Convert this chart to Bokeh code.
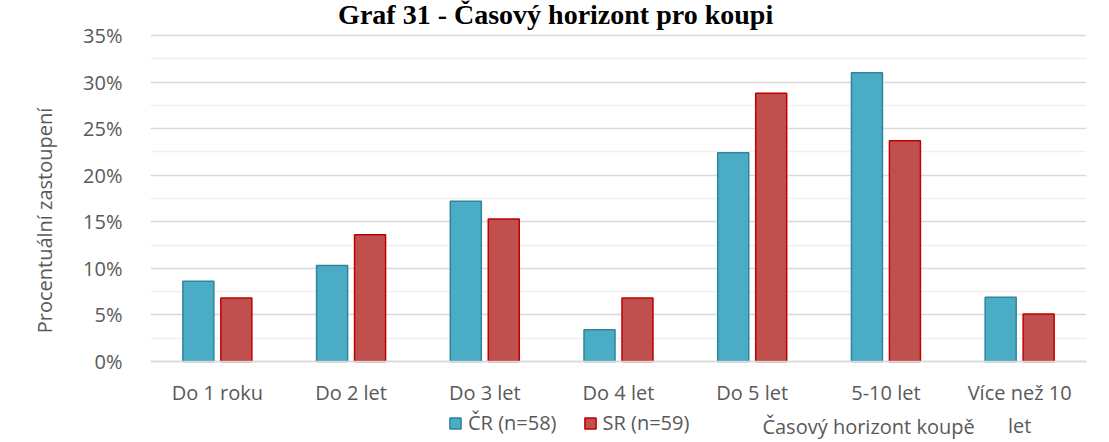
from bokeh.plotting import figure
from bokeh.models import (FixedTicker, PrintfTickFormatter, Legend, LegendItem,
                          Label, Range1d)
from bokeh.embed import file_html
from bokeh.resources import INLINE
import numpy as np

categories = ["Do 1 roku", "Do 2 let", "Do 3 let", "Do 4 let", "Do 5 let",
              "5-10 let", "Více než 10\nlet"]
cr_values = [8.6, 10.3, 17.2, 3.4, 22.4, 31.0, 6.9]
sr_values = [6.8, 13.6, 15.3, 6.8, 28.8, 23.7, 5.1]
series_names = ["ČR (n=58)", "SR (n=59)"]
y_ticks = [0, 5, 10, 15, 20, 25, 30, 35]
y_minor = [2.5, 7.5, 12.5, 17.5, 22.5, 27.5, 32.5]
title_text = "Graf 31 - Časový horizont pro koupi"
x_title = "Časový horizont koupě"
y_title = "Procentuální zastoupení"

FONT = "Open Sans"
TXT = "#595959"

centers = np.arange(len(categories)) + 0.5
off = 0.142
bw = 0.232

# frame spans the full canvas height so that legend / titles below and above
# the plotting area are not clipped; 1 unit = ~9.31 px
p = figure(width=1105, height=440, output_backend="svg", toolbar_location=None,
           x_range=Range1d(0, len(categories)), y_range=Range1d(-8.49, 38.76),
           min_border_left=150, min_border_right=19, min_border_top=0,
           min_border_bottom=0)
p.outline_line_color = None
p.background_fill_color = "white"
p.border_fill_color = "white"

r_cr = p.vbar(x=centers - off, top=cr_values, width=bw, fill_color="#4BACC6",
              line_color="#31849B", line_width=1.5)
r_sr = p.vbar(x=centers + off, top=sr_values, width=bw, fill_color="#C0504D",
              line_color="#C00000", line_width=1.5)

# x axis (sits at 0 %)
p.xaxis.fixed_location = 0
p.xaxis.ticker = FixedTicker(ticks=list(centers))
p.xaxis.major_label_overrides = {float(c): lab for c, lab in zip(centers, categories)}
p.xaxis.major_tick_line_color = None
p.xaxis.minor_tick_line_color = None
p.xaxis.axis_line_color = "#d9d9d9"
p.xaxis.axis_line_width = 1.5
p.xaxis.major_label_standoff = 12
p.xaxis.major_label_text_font = FONT
p.xaxis.major_label_text_font_size = "20px"
p.xaxis.major_label_text_color = TXT
p.xgrid.grid_line_color = None

# y axis
p.yaxis.ticker = FixedTicker(ticks=y_ticks, minor_ticks=y_minor)
p.yaxis.formatter = PrintfTickFormatter(format="%d%%")
p.yaxis.axis_line_color = None
p.yaxis.major_tick_line_color = None
p.yaxis.minor_tick_line_color = None
p.yaxis.major_label_standoff = 22
p.yaxis.major_label_text_font = FONT
p.yaxis.major_label_text_font_size = "20px"
p.yaxis.major_label_text_color = TXT
p.yaxis.axis_label = y_title
p.yaxis.axis_label_text_font = FONT
p.yaxis.axis_label_text_font_size = "20px"
p.yaxis.axis_label_text_font_style = "normal"
p.yaxis.axis_label_text_color = TXT
p.yaxis.axis_label_standoff = 22
p.ygrid.grid_line_color = "#d9d9d9"
p.ygrid.grid_line_width = 1.5
p.ygrid.minor_grid_line_color = "#f0f0f0"
p.ygrid.minor_grid_line_width = 1.5

# legend
legend = Legend(items=[LegendItem(label=series_names[0], renderers=[r_cr]),
                       LegendItem(label=series_names[1], renderers=[r_sr])],
                orientation="horizontal", location=(298, 4),
                glyph_width=14, glyph_height=14, spacing=26, padding=0,
                margin=0, label_standoff=6, border_line_color=None,
                background_fill_alpha=0,
                label_text_font=FONT, label_text_font_size="20px",
                label_text_color=TXT)
p.add_layout(legend)

# x axis title
p.add_layout(Label(x=5.37, y=-6.95, text=x_title, text_align="center",
                   text_baseline="middle", text_font=FONT,
                   text_font_size="20px", text_color=TXT))

# chart title
p.add_layout(Label(x=3.03, y=37.25, text=title_text, text_align="center",
                   text_baseline="middle", text_font="Liberation Serif",
                   text_font_style="bold", text_font_size="28px",
                   text_color="black"))

open("out.html", "w").write(file_html(p, INLINE))
